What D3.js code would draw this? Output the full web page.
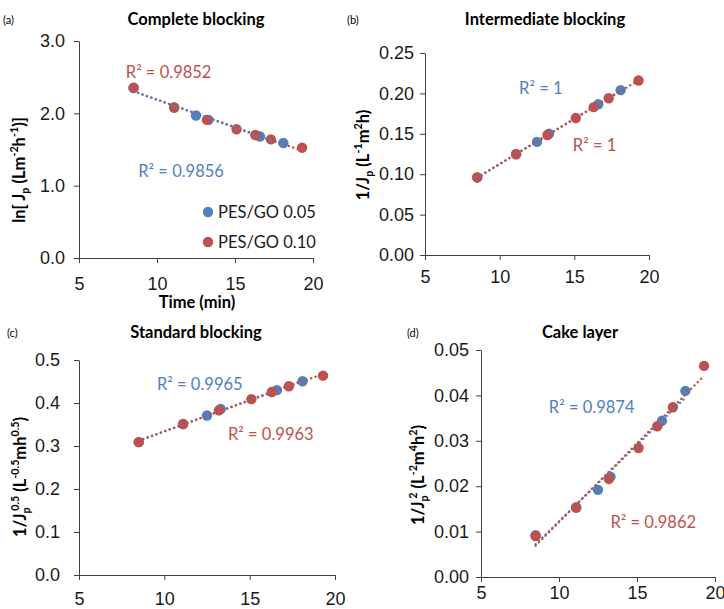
<!DOCTYPE html>
<html>
<head>
<meta charset="utf-8">
<script src="https://cdn.jsdelivr.net/npm/d3@7"></script>
<style>
  body { margin: 0; background: #fff; }
  svg { font-family: Lato, "Open Sans", sans-serif; }
  .axis path, .axis line { stroke: #404040; }
  .axis text { fill: #1a1a1a; }
</style>
</head>
<body>
<div id="chart"></div>
<script>
// filtration time (min)
var times05 = [8.5, 11.1, 12.5, 13.3, 16.6, 18.1];
var times10 = [8.5, 11.1, 13.2, 15.1, 16.3, 17.3, 19.3];

// ln[Jp]
var complete05 = [2.35, 2.08, 1.97, 1.91, 1.68, 1.59];
var complete10 = [2.355, 2.08, 1.91, 1.78, 1.70, 1.64, 1.525];
// 1/Jp
var intermediate05 = [0.096, 0.125, 0.140, 0.150, 0.1865, 0.204];
var intermediate10 = [0.096, 0.1245, 0.1485, 0.1695, 0.183, 0.194, 0.216];
// 1/Jp^0.5
var standard05 = [0.309, 0.351, 0.371, 0.386, 0.430, 0.4505];
var standard10 = [0.309, 0.351, 0.383, 0.409, 0.4255, 0.439, 0.4635];
// 1/Jp^2
var cake05 = [0.0092, 0.0153, 0.0192, 0.0221, 0.0344, 0.0410];
var cake10 = [0.0090, 0.0153, 0.0216, 0.0284, 0.0332, 0.0374, 0.0465];

var seriesNames = ["PES/GO 0.05", "PES/GO 0.10"];
var r2Complete = ["0.9856", "0.9852"];
var r2Intermediate = ["1", "1"];
var r2Standard = ["0.9965", "0.9963"];
var r2Cake = ["0.9874", "0.9862"];

var blue = "#4f81bd", red = "#c0504d";

var svg = d3.select("#chart").append("svg")
    .attr("width", 724)
    .attr("height", 609);

var panels = [
    {tag: "(a)", title: "Complete blocking", y05: complete05, y10: complete10, r2: r2Complete,
     x0: 79, x1: 313, yb: 258, yt: 41, ymax: 3, step: 1, fmt: ".1f", pad: 9, xlab: 14,
     tagX: 3, titleX: 196, titleY: 25,
     ylab: [{t: "ln[ J"}, {t: "p", s: -1}, {t: " (Lm"}, {t: "-2", s: 1}, {t: "h"}, {t: "-1", s: 1}, {t: ")]"}],
     ylabX: 25, ylabY: 170,
     r2pos: [[8.8, 1.12], [8.0, 2.49]], blueOnTop: true, legend: true, xtitle: "Time (min)"},
    {tag: "(b)", title: "Intermediate blocking", y05: intermediate05, y10: intermediate10, r2: r2Intermediate,
     x0: 425, x1: 649, yb: 255, yt: 53, ymax: 0.25, step: 0.05, fmt: ".2f", pad: 6, xlab: 10,
     tagX: 347, titleX: 545, titleY: 25,
     ylab: [{t: "1/J"}, {t: "p", s: -1}, {t: " (L"}, {t: "-1", s: 1}, {t: "m"}, {t: "2", s: 1}, {t: "h)"}],
     ylabX: 369, ylabY: 155,
     r2pos: [[11.3, 0.1995], [14.9, 0.129]], blueOnTop: false},
    {tag: "(c)", title: "Standard blocking", y05: standard05, y10: standard10, r2: r2Standard,
     x0: 79, x1: 335, yb: 575, yt: 360, ymax: 0.5, step: 0.1, fmt: ".1f", pad: 14, xlab: 12,
     tagX: 7, titleX: 196, titleY: 338,
     ylab: [{t: "1/J"}, {t: "p", s: -1}, {t: "0.5", s: 2}, {t: " (L"}, {t: "-0.5", s: 1}, {t: "mh"}, {t: "0.5", s: 1}, {t: ")"}],
     ylabX: 26, ylabY: 477,
     r2pos: [[9.57, 0.4305], [13.73, 0.3135]], blueOnTop: false},
    {tag: "(d)", title: "Cake layer", y05: cake05, y10: cake10, r2: r2Cake,
     x0: 481, x1: 715, yb: 577, yt: 350, ymax: 0.05, step: 0.01, fmt: ".2f", pad: 7, xlab: 4,
     tagX: 407, titleX: 580, titleY: 338,
     ylab: [{t: "1/J"}, {t: "p", s: -1}, {t: "2", s: 2}, {t: " (L"}, {t: "-2", s: 1}, {t: "m"}, {t: "4", s: 1}, {t: "h"}, {t: "2", s: 1}, {t: ")"}],
     ylabX: 424, ylabY: 475,
     r2pos: [[9.35, 0.0361], [13.3, 0.0108]], blueOnTop: false}
];

function fit(xs, ys) {
    var mx = d3.mean(xs), my = d3.mean(ys);
    var sxy = d3.sum(xs, function(x, i) { return (x - mx) * (ys[i] - my); });
    var sxx = d3.sum(xs, function(x) { return (x - mx) * (x - mx); });
    var b = sxy / sxx;
    return {b: b, a: my - b * mx};
}

// append text made of runs; s: 1 = superscript, -1 = subscript, 2 = superscript right after a subscript
function richText(sel, runs, size) {
    var shift = 0;
    runs.forEach(function(r) {
        var target = 0;
        if (r.s === 1 || r.s === 2) target = -0.4 * size;
        if (r.s === -1) target = 0.25 * size;
        var ts = sel.append("tspan").text(r.t).attr("dy", target - shift);
        if (r.s) ts.style("font-size", (size * 0.65) + "px");
        if (r.s === 2) ts.attr("dx", -size * 0.2);
        shift = target;
    });
}

panels.forEach(function(p) {
    var g = svg.append("g");
    var x = d3.scaleLinear().domain([5, 20]).range([p.x0, p.x1]);
    var y = d3.scaleLinear().domain([0, p.ymax]).range([p.yb, p.yt]);

    var xAxis = g.append("g")
        .attr("class", "axis")
        .attr("transform", "translate(0," + p.yb + ")")
        .call(d3.axisBottom(x).tickValues([5, 10, 15, 20]).tickSize(5).tickSizeOuter(0).tickPadding(p.xlab));
    xAxis.selectAll("text").style("font-size", "18px");

    var yAxis = g.append("g")
        .attr("class", "axis")
        .attr("transform", "translate(" + p.x0 + ",0)")
        .call(d3.axisLeft(y).tickValues(d3.range(0, p.ymax + p.step / 2, p.step))
            .tickFormat(d3.format(p.fmt)).tickSize(5).tickSizeOuter(0).tickPadding(p.pad));
    yAxis.selectAll("text").style("font-size", "18px");

    g.append("text")
        .attr("x", p.titleX).attr("y", p.titleY)
        .attr("text-anchor", "middle")
        .style("font-size", "16.5px").style("font-weight", "bold")
        .text(p.title);

    g.append("text")
        .attr("x", p.tagX).attr("y", p.titleY - 1)
        .style("font-size", "11px")
        .text(p.tag);

    var yl = g.append("text")
        .attr("transform", "translate(" + p.ylabX + "," + p.ylabY + ")rotate(-90)")
        .attr("text-anchor", "middle")
        .attr("dy", "0.35em")
        .style("font-size", "16.5px").style("font-weight", "bold");
    richText(yl, p.ylab, 16.5);

    if (p.xtitle) {
        g.append("text")
            .attr("x", (p.x0 + p.x1) / 2 + 1).attr("y", p.yb + 50)
            .attr("text-anchor", "middle")
            .style("font-size", "16.5px").style("font-weight", "bold")
            .text(p.xtitle);
    }

    var sets = [
        {xs: times05, ys: p.y05, color: blue},
        {xs: times10, ys: p.y10, color: red}
    ];

    // markers: 0.05 first, 0.10 on top
    sets.forEach(function(s) {
        g.append("g").selectAll("circle")
            .data(s.xs.map(function(t, i) { return [t, s.ys[i]]; }))
            .enter().append("circle")
            .attr("cx", function(d) { return x(d[0]); })
            .attr("cy", function(d) { return y(d[1]); })
            .attr("r", 5.2)
            .attr("fill", s.color);
    });

    // dotted linear trendlines over the markers
    var lineOrder = p.blueOnTop ? [sets[1], sets[0]] : [sets[0], sets[1]];
    lineOrder.forEach(function(s) {
        var f = fit(s.xs, s.ys);
        var ends = d3.extent(s.xs);
        g.append("line")
            .attr("x1", x(ends[0])).attr("y1", y(f.a + f.b * ends[0]))
            .attr("x2", x(ends[1])).attr("y2", y(f.a + f.b * ends[1]))
            .attr("stroke", s.color)
            .attr("stroke-width", 2.4)
            .attr("stroke-linecap", "round")
            .attr("stroke-dasharray", "0.1,4.6");
    });

    // R² labels
    sets.forEach(function(s, i) {
        var pos = p.r2pos[i];
        g.append("text")
            .attr("x", x(pos[0])).attr("y", y(pos[1]))
            .style("font-size", "16.5px")
            .attr("fill", s.color)
            .text("R² = " + p.r2[i]);
    });

    if (p.legend) {
        var lg = g.append("g").selectAll("g")
            .data(seriesNames)
            .enter().append("g")
            .attr("transform", function(d, i) { return "translate(208," + (212 + i * 30) + ")"; });
        lg.append("circle")
            .attr("r", 5.2)
            .attr("fill", function(d, i) { return i === 0 ? blue : red; });
        lg.append("text")
            .attr("x", 10).attr("dy", "0.35em")
            .style("font-size", "16.5px")
            .attr("fill", "#1a1a1a")
            .text(function(d) { return d; });
    }
});
</script>
</body>
</html>
